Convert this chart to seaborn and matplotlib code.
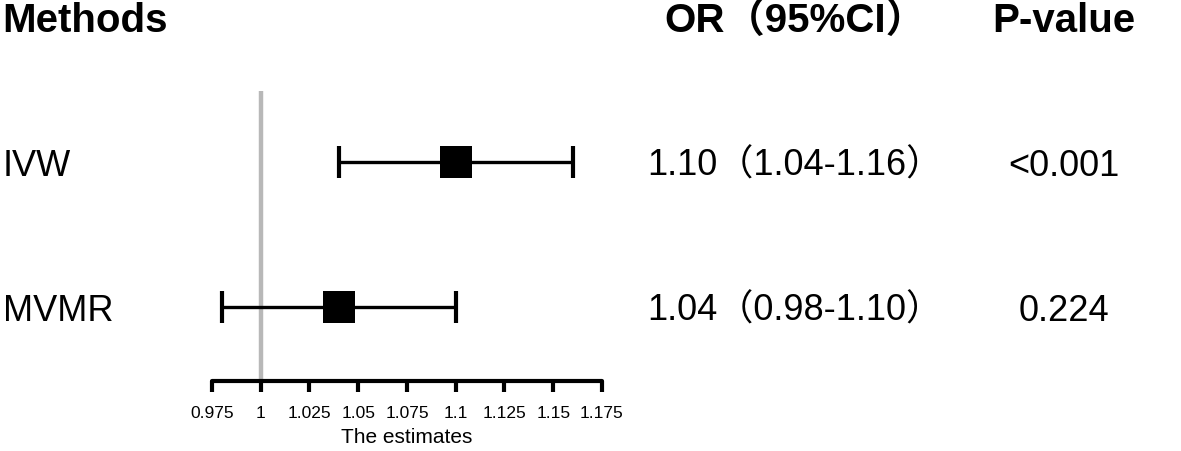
import matplotlib
matplotlib.use("Agg")
import matplotlib.pyplot as plt
import matplotlib.transforms as mtransforms
import pandas as pd
import seaborn as sns

methods = ["IVW", "MVMR"]
odds_ratio = [1.10, 1.04]
ci_low = [1.04, 0.98]
ci_high = [1.16, 1.10]
or_text = ["1.10（1.04-1.16）", "1.04（0.98-1.10）"]
p_text = ["<0.001", "0.224"]
xticks = [0.975, 1, 1.025, 1.05, 1.075, 1.1, 1.125, 1.15, 1.175]
xtick_labels = ["0.975", "1", "1.025", "1.05", "1.075", "1.1", "1.125", "1.15", "1.175"]

df = pd.DataFrame({"method": methods, "or": odds_ratio, "low": ci_low, "high": ci_high})
df["row"] = range(len(df))

sns.set_theme(style="white")
plt.rcParams["font.family"] = ["Liberation Sans", "Noto Sans CJK SC", "DejaVu Sans"]
plt.rcParams["text.color"] = "black"
plt.rcParams["axes.labelcolor"] = "black"
plt.rcParams["xtick.color"] = "black"

W, H = 1181, 452
fig = plt.figure(figsize=(W / 100, H / 100), dpi=100)
# axes box in pixels: left 212, right 602, top 92, bottom 382
ax = fig.add_axes([212 / W, (H - 382) / H, 390 / W, 290 / H])

ax.axvline(1, color="#b8b8b8", lw=3.2, zorder=0)
ax.errorbar(df["or"], df["row"], xerr=[df["or"] - df["low"], df["high"] - df["or"]],
            fmt="none", ecolor="black", elinewidth=2.4, capsize=11.5, capthick=3,
            clip_on=False, zorder=2)
sns.scatterplot(data=df, x="or", y="row", marker="s", s=500, color="black",
                edgecolor="black", linewidth=0, ax=ax, zorder=3, clip_on=False)

ax.set_xlim(0.975, 1.175)
ax.set_ylim(1.51, -0.49)
ax.set_yticks([])
ax.set_xticks(xticks)
ax.set_xticklabels(xtick_labels, fontsize=12.5)
ax.set_xlabel("The estimates", fontsize=15, labelpad=5)
ax.set_ylabel("")
for side in ["top", "right", "left"]:
    ax.spines[side].set_visible(False)
ax.spines["bottom"].set_color("black")
ax.spines["bottom"].set_linewidth(3)
ax.spines["bottom"].set_capstyle("round")
ax.tick_params(axis="x", bottom=True, direction="out", length=8, width=3,
               color="black", pad=9)

# text columns
trans = mtransforms.blended_transform_factory(fig.transFigure, ax.transData)
trans = mtransforms.offset_copy(trans, fig=fig, y=-3, units="dots")
for i, row in df.iterrows():
    ax.text(3 / W, row["row"], row["method"], transform=trans, ha="left", va="center", fontsize=26)
    ax.text(795 / W, row["row"], or_text[i], transform=trans, ha="center", va="center", fontsize=26)
    ax.text(1064 / W, row["row"], p_text[i], transform=trans, ha="center", va="center", fontsize=26)

head_y = 1 - 21 / H
fig.text(2 / W, head_y, "Methods", ha="left", va="center", fontsize=29, fontweight="bold")
fig.text(795 / W, head_y, "OR（95%CI）", ha="center", va="center", fontsize=29, fontweight="bold")
fig.text(1064 / W, head_y, "P-value", ha="center", va="center", fontsize=29, fontweight="bold")

fig.savefig("out.png", dpi=100, facecolor="white")
